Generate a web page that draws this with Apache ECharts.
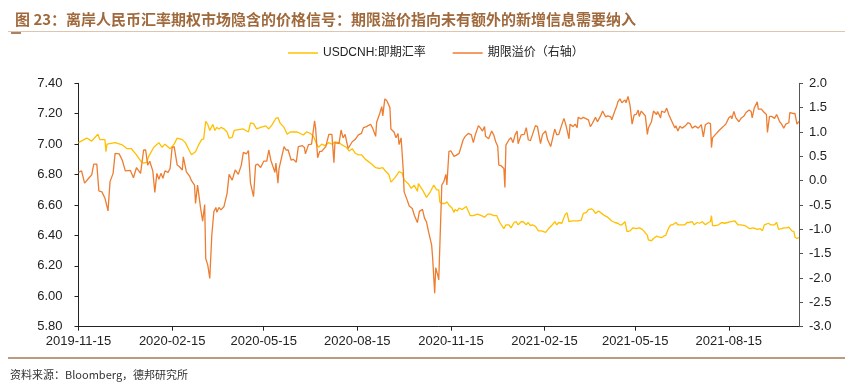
<!DOCTYPE html>
<html><head><meta charset="utf-8">
<script src="https://cdn.jsdelivr.net/npm/echarts@6/dist/echarts.min.js"></script>
<style>html,body{margin:0;padding:0;background:#fff}#c{width:853px;height:385px}</style>
</head><body><div id="c"></div>
<script>
const titleText = '图 23：离岸人民币汇率期权市场隐含的价格信号：期限溢价指向未有额外的新增信息需要纳入';
const sourceText = '资料来源：Bloomberg，德邦研究所';
const seriesNames = ['USDCNH:即期汇率', '期限溢价（右轴）'];
const startDate = '2019-11-15';
const endDate = '2021-10-23';
const xTickLabels = ['2019-11-15','2020-02-15','2020-05-15','2020-08-15','2020-11-15','2021-02-15','2021-05-15','2021-08-15'];
const leftTicks = {min: 5.8, max: 7.4, interval: 0.2};
const rightTicks = {min: -3, max: 2, interval: 0.5};

const spotUSDCNH = [
['2019-11-15',7.01],['2019-11-23',7.04],['2019-11-28',7.02],['2019-12-04',7.065],['2019-12-06',7.03],['2019-12-11',7.03],['2019-12-12',6.95],['2019-12-13',7.00],['2019-12-21',7.01],['2019-12-28',6.995],
['2020-01-02',6.97],['2020-01-06',6.97],['2020-01-11',6.93],['2020-01-15',6.89],['2020-01-18',6.875],['2020-01-21',6.88],['2020-01-23',6.92],['2020-01-28',6.98],
['2020-02-02',7.01],['2020-02-05',6.98],['2020-02-08',7.00],['2020-02-13',6.97],['2020-02-17',7.00],['2020-02-20',7.04],['2020-02-25',7.03],['2020-02-28',7.01],
['2020-03-02',6.97],['2020-03-05',6.93],['2020-03-09',6.95],['2020-03-12',6.995],['2020-03-15',7.03],['2020-03-17',7.035],['2020-03-19',7.15],['2020-03-21',7.13],['2020-03-23',7.09],['2020-03-26',7.13],['2020-03-28',7.09],['2020-03-30',7.11],
['2020-04-01',7.10],['2020-04-03',7.11],['2020-04-06',7.10],['2020-04-09',7.08],['2020-04-11',7.04],['2020-04-14',7.045],['2020-04-16',7.09],['2020-04-20',7.095],['2020-04-25',7.10],['2020-04-30',7.08],
['2020-05-02',7.14],['2020-05-05',7.135],['2020-05-08',7.10],['2020-05-12',7.11],['2020-05-17',7.12],['2020-05-20',7.10],['2020-05-23',7.125],['2020-05-27',7.17],['2020-05-29',7.175],['2020-05-31',7.14],
['2020-06-04',7.11],['2020-06-07',7.065],['2020-06-10',7.08],['2020-06-13',7.08],['2020-06-17',7.08],['2020-06-20',7.07],['2020-06-23',7.06],['2020-06-26',7.08],['2020-06-30',7.07],
['2020-07-03',7.05],['2020-07-06',7.00],['2020-07-08',6.98],['2020-07-11',7.00],['2020-07-14',6.99],['2020-07-18',7.01],['2020-07-21',7.00],['2020-07-24',7.015],['2020-07-28',7.01],['2020-07-31',6.995],
['2020-08-04',6.98],['2020-08-07',6.955],['2020-08-10',6.97],['2020-08-13',6.94],['2020-08-16',6.93],['2020-08-19',6.93],['2020-08-23',6.90],['2020-08-26',6.885],['2020-08-29',6.87],
['2020-09-02',6.845],['2020-09-06',6.84],['2020-09-09',6.845],['2020-09-12',6.82],['2020-09-15',6.80],['2020-09-17',6.75],['2020-09-21',6.78],['2020-09-25',6.82],['2020-09-28',6.81],['2020-09-30',6.765],
['2020-10-04',6.74],['2020-10-07',6.71],['2020-10-10',6.73],['2020-10-13',6.69],['2020-10-14',6.74],['2020-10-18',6.70],['2020-10-22',6.65],['2020-10-26',6.69],['2020-10-29',6.73],
['2020-11-01',6.70],['2020-11-03',6.70],['2020-11-04',6.62],['2020-11-06',6.61],['2020-11-09',6.61],['2020-11-11',6.62],['2020-11-13',6.60],['2020-11-16',6.58],['2020-11-18',6.55],['2020-11-19',6.57],['2020-11-21',6.56],['2020-11-23',6.58],['2020-11-26',6.57],['2020-11-27',6.57],['2020-11-30',6.59],
['2020-12-02',6.56],['2020-12-04',6.53],['2020-12-07',6.53],['2020-12-11',6.54],['2020-12-12',6.55],['2020-12-15',6.53],['2020-12-18',6.52],['2020-12-21',6.54],['2020-12-24',6.54],['2020-12-27',6.53],['2020-12-30',6.53],
['2021-01-02',6.485],['2021-01-06',6.445],['2021-01-08',6.47],['2021-01-11',6.47],['2021-01-13',6.45],['2021-01-16',6.485],['2021-01-18',6.49],['2021-01-20',6.47],['2021-01-23',6.49],['2021-01-25',6.49],['2021-01-28',6.47],['2021-01-30',6.485],
['2021-02-01',6.465],['2021-02-03',6.47],['2021-02-06',6.46],['2021-02-09',6.43],['2021-02-12',6.43],['2021-02-16',6.42],['2021-02-19',6.445],['2021-02-22',6.465],['2021-02-25',6.49],['2021-02-27',6.47],
['2021-03-01',6.485],['2021-03-04',6.48],['2021-03-07',6.535],['2021-03-09',6.55],['2021-03-11',6.49],['2021-03-14',6.495],['2021-03-17',6.495],['2021-03-20',6.495],['2021-03-23',6.50],['2021-03-25',6.545],['2021-03-28',6.55],['2021-03-30',6.57],
['2021-04-02',6.575],['2021-04-04',6.565],['2021-04-06',6.545],['2021-04-09',6.56],['2021-04-12',6.545],['2021-04-15',6.53],['2021-04-18',6.52],['2021-04-22',6.495],['2021-04-25',6.485],['2021-04-28',6.48],['2021-04-30',6.47],
['2021-05-02',6.47],['2021-05-05',6.49],['2021-05-07',6.425],['2021-05-10',6.43],['2021-05-13',6.45],['2021-05-16',6.445],['2021-05-19',6.45],['2021-05-22',6.44],['2021-05-24',6.425],['2021-05-27',6.40],['2021-05-28',6.37],['2021-05-31',6.365],
['2021-06-02',6.38],['2021-06-05',6.395],['2021-06-07',6.39],['2021-06-10',6.385],['2021-06-12',6.395],['2021-06-14',6.40],['2021-06-17',6.45],['2021-06-19',6.47],['2021-06-21',6.47],['2021-06-24',6.485],['2021-06-26',6.47],['2021-06-29',6.47],
['2021-07-03',6.47],['2021-07-05',6.485],['2021-07-07',6.485],['2021-07-10',6.49],['2021-07-12',6.47],['2021-07-15',6.485],['2021-07-17',6.48],['2021-07-20',6.49],['2021-07-21',6.495],['2021-07-23',6.47],['2021-07-26',6.485],['2021-07-28',6.49],['2021-07-29',6.53],['2021-07-30',6.465],
['2021-08-02',6.465],['2021-08-05',6.47],['2021-08-08',6.485],['2021-08-11',6.48],['2021-08-14',6.485],['2021-08-17',6.49],['2021-08-21',6.495],['2021-08-24',6.47],['2021-08-27',6.47],['2021-08-31',6.465],
['2021-09-03',6.45],['2021-09-05',6.445],['2021-09-08',6.45],['2021-09-12',6.44],['2021-09-15',6.445],['2021-09-17',6.43],['2021-09-19',6.47],['2021-09-23',6.48],['2021-09-25',6.47],['2021-09-27',6.47],['2021-09-29',6.47],
['2021-10-01',6.485],['2021-10-03',6.44],['2021-10-06',6.445],['2021-10-08',6.45],['2021-10-11',6.45],['2021-10-13',6.455],['2021-10-16',6.43],['2021-10-18',6.425],['2021-10-19',6.39],['2021-10-21',6.38],['2021-10-23',6.385]
];

const termPremium = [
['2019-11-15',0.17],['2019-11-18',0.20],['2019-11-21',-0.05],['2019-11-25',0.05],['2019-11-28',0.12],['2019-11-30',0.34],['2019-12-03',0.34],['2019-12-05',-0.21],['2019-12-08',-0.23],['2019-12-11',-0.36],['2019-12-14',-0.62],['2019-12-16',-0.02],['2019-12-19',0.15],['2019-12-21',0.56],['2019-12-25',0.55],['2019-12-28',0.42],['2019-12-31',0.20],
['2020-01-05',0.21],['2020-01-08',0.06],['2020-01-11',0.27],['2020-01-15',0.15],['2020-01-18',0.63],['2020-01-20',0.63],['2020-01-22',0.32],['2020-01-24',0.40],['2020-01-27',0.20],['2020-01-29',-0.24],['2020-01-31',0.15],
['2020-02-02',0.03],['2020-02-04',0.15],['2020-02-06',0.05],['2020-02-08',0.20],['2020-02-11',0.17],['2020-02-13',0.25],['2020-02-15',0.68],['2020-02-17',0.70],['2020-02-20',0.32],['2020-02-22',0.29],['2020-02-25',0.22],['2020-02-26',0.49],['2020-02-29',0.18],
['2020-03-03',0.10],['2020-03-05',0.00],['2020-03-08',-0.09],['2020-03-09',-0.47],['2020-03-11',-0.09],['2020-03-14',-0.57],['2020-03-16',-0.83],['2020-03-18',-0.49],['2020-03-19',-1.60],['2020-03-21',-1.73],['2020-03-23',-2.01],['2020-03-25',-1.12],['2020-03-27',-0.64],['2020-03-29',-0.55],['2020-03-30',-0.65],
['2020-04-01',-0.55],['2020-04-03',-0.60],['2020-04-06',-0.53],['2020-04-09',-0.26],['2020-04-11',0.13],['2020-04-14',0.01],['2020-04-17',0.22],['2020-04-20',0.13],['2020-04-23',0.32],['2020-04-25',0.58],['2020-04-28',0.55],['2020-04-30',0.62],
['2020-05-02',-0.05],['2020-05-05',-0.33],['2020-05-07',0.32],['2020-05-09',0.34],['2020-05-12',0.27],['2020-05-15',0.40],['2020-05-18',0.40],['2020-05-20',0.63],['2020-05-22',0.42],['2020-05-26',0.17],['2020-05-27',0.36],['2020-05-29',-0.05],['2020-05-30',0.24],
['2020-06-04',0.70],['2020-06-06',0.63],['2020-06-08',0.63],['2020-06-11',0.42],['2020-06-13',0.44],['2020-06-16',0.38],['2020-06-18',0.70],['2020-06-22',0.72],['2020-06-24',0.68],['2020-06-25',0.55],['2020-06-28',0.74],
['2020-07-01',0.75],['2020-07-04',1.23],['2020-07-05',1.08],['2020-07-07',0.47],['2020-07-09',0.60],['2020-07-11',0.60],['2020-07-15',0.70],['2020-07-18',0.95],['2020-07-21',0.95],['2020-07-23',0.37],['2020-07-24',0.78],['2020-07-28',0.76],['2020-07-30',1.04],
['2020-08-01',0.88],['2020-08-03',0.95],['2020-08-05',0.75],['2020-08-06',0.66],['2020-08-10',0.80],['2020-08-13',0.85],['2020-08-16',0.94],['2020-08-19',0.97],['2020-08-21',1.09],['2020-08-24',1.11],['2020-08-28',1.16],['2020-08-30',1.08],
['2020-09-02',0.91],['2020-09-03',1.20],['2020-09-06',1.38],['2020-09-08',1.52],['2020-09-09',1.33],['2020-09-11',1.68],['2020-09-13',1.64],['2020-09-16',1.50],['2020-09-17',1.06],['2020-09-20',1.00],['2020-09-22',0.88],['2020-09-24',0.97],['2020-09-25',0.74],['2020-09-27',0.88],['2020-09-29',0.25],['2020-09-30',-0.23],
['2020-10-03',-0.40],['2020-10-05',-0.52],['2020-10-08',-0.57],['2020-10-10',-0.71],['2020-10-13',-0.86],['2020-10-15',-0.63],['2020-10-18',-0.59],['2020-10-20',-0.77],['2020-10-22',-0.85],['2020-10-24',-1.05],['2020-10-27',-1.32],['2020-10-28',-1.59],['2020-10-30',-2.31],['2020-10-31',-1.79],
['2020-11-02',-1.94],['2020-11-03',-2.04],['2020-11-06',-0.09],['2020-11-08',-0.02],['2020-11-10',0.13],['2020-11-11',-0.09],['2020-11-13',0.60],['2020-11-15',0.61],['2020-11-18',0.50],['2020-11-20',0.52],['2020-11-23',0.56],['2020-11-24',0.63],['2020-11-27',0.84],['2020-11-29',0.91],
['2020-12-02',0.97],['2020-12-05',0.94],['2020-12-07',0.78],['2020-12-09',0.95],['2020-12-12',1.13],['2020-12-14',1.08],['2020-12-16',1.02],['2020-12-18',1.11],['2020-12-19',0.91],['2020-12-22',0.86],['2020-12-25',1.02],['2020-12-27',0.94],['2020-12-29',0.80],['2020-12-31',0.70],
['2021-01-01',0.32],['2021-01-03',0.31],['2021-01-06',0.25],['2021-01-07',-0.14],['2021-01-08',0.73],['2021-01-11',0.84],['2021-01-13',0.88],['2021-01-15',0.78],['2021-01-17',0.94],['2021-01-19',1.02],['2021-01-20',0.76],['2021-01-23',0.94],['2021-01-26',0.95],['2021-01-28',1.09],['2021-01-30',0.84],
['2021-02-01',0.82],['2021-02-03',0.94],['2021-02-06',1.13],['2021-02-08',1.11],['2021-02-11',0.76],['2021-02-13',0.95],['2021-02-16',1.02],['2021-02-18',0.84],['2021-02-21',0.70],['2021-02-23',0.88],['2021-02-25',1.06],['2021-02-27',0.94],
['2021-03-01',0.95],['2021-03-03',1.09],['2021-03-06',1.28],['2021-03-08',1.14],['2021-03-11',0.86],['2021-03-12',1.16],['2021-03-15',1.11],['2021-03-17',1.16],['2021-03-19',1.09],['2021-03-20',1.30],['2021-03-23',1.27],['2021-03-25',1.30],['2021-03-28',1.27],['2021-03-30',1.25],
['2021-04-01',1.11],['2021-04-03',1.18],['2021-04-06',1.30],['2021-04-08',1.21],['2021-04-11',1.33],['2021-04-13',1.43],['2021-04-16',1.31],['2021-04-18',1.33],['2021-04-21',1.31],['2021-04-22',1.25],['2021-04-25',1.43],['2021-04-27',1.54],['2021-04-28',1.62],['2021-04-30',1.68],
['2021-05-02',1.60],['2021-05-05',1.66],['2021-05-06',1.60],['2021-05-08',1.73],['2021-05-10',1.54],['2021-05-12',1.16],['2021-05-14',1.35],['2021-05-16',1.36],['2021-05-18',1.45],['2021-05-19',1.32],['2021-05-21',1.43],['2021-05-23',1.38],['2021-05-25',1.33],['2021-05-27',0.95],['2021-05-28',1.08],['2021-05-31',1.21],
['2021-06-02',1.43],['2021-06-05',1.36],['2021-06-06',1.42],['2021-06-09',1.29],['2021-06-10',1.43],['2021-06-13',1.40],['2021-06-15',1.49],['2021-06-17',1.36],['2021-06-20',1.22],['2021-06-21',1.19],['2021-06-23',1.08],['2021-06-24',1.13],['2021-06-26',1.02],['2021-06-28',1.12],['2021-06-30',1.08],
['2021-07-03',1.12],['2021-07-06',1.19],['2021-07-08',1.17],['2021-07-10',1.08],['2021-07-13',1.12],['2021-07-16',1.08],['2021-07-19',1.15],['2021-07-21',0.90],['2021-07-23',1.15],['2021-07-26',1.19],['2021-07-28',1.17],['2021-07-29',0.68],['2021-07-30',0.88],
['2021-08-02',0.95],['2021-08-05',1.02],['2021-08-08',1.08],['2021-08-10',1.12],['2021-08-12',1.16],['2021-08-15',1.29],['2021-08-17',1.33],['2021-08-18',1.27],['2021-08-20',1.42],['2021-08-22',1.29],['2021-08-25',1.21],['2021-08-27',1.28],['2021-08-30',1.33],
['2021-09-01',1.40],['2021-09-04',1.45],['2021-09-06',1.42],['2021-09-07',1.29],['2021-09-09',1.49],['2021-09-12',1.62],['2021-09-13',1.47],['2021-09-16',1.47],['2021-09-18',1.42],['2021-09-21',1.36],['2021-09-22',0.99],['2021-09-24',1.32],['2021-09-26',1.32],['2021-09-29',1.28],
['2021-10-01',1.36],['2021-10-04',1.21],['2021-10-06',1.16],['2021-10-08',1.08],['2021-10-10',1.16],['2021-10-13',1.19],['2021-10-14',1.40],['2021-10-17',1.38],['2021-10-19',1.38],['2021-10-21',1.16],['2021-10-23',1.22]
];

// build the calendar-day category list
const days = [];
(function(){
  const s = Date.parse(startDate + 'T00:00:00Z'), e = Date.parse(endDate + 'T00:00:00Z');
  for (let t = s; t <= e; t += 86400000) days.push(new Date(t).toISOString().slice(0, 10));
})();
const dayIndex = {};
days.forEach((d, i) => { dayIndex[d] = i; });
const toSeries = arr => arr.map(p => [dayIndex[p[0]], p[1]]);
const showTick = (i, v) => xTickLabels.indexOf(v) >= 0;

const FONT = '"Liberation Sans", "Noto Sans CJK SC", sans-serif';
const chart = echarts.init(document.getElementById('c'), null, {renderer: 'canvas'});
chart.setOption({
  animation: false,
  backgroundColor: '#fff',
  title: {
    text: titleText, left: 10, top: 7,
    textStyle: {color: '#A0693C', fontSize: 15, fontWeight: 'bold', fontFamily: '"Noto Sans CJK SC", sans-serif'}
  },
  graphic: [
    {type: 'line', shape: {x1: 8, y1: 31.5, x2: 845, y2: 31.5}, style: {stroke: '#DCC6B0', lineWidth: 1}},
    {type: 'line', shape: {x1: 11, y1: 33, x2: 21, y2: 33}, style: {stroke: '#8A5A35', lineWidth: 1.5}},
    {type: 'line', shape: {x1: 8, y1: 358, x2: 845, y2: 358}, style: {stroke: '#A47A55', lineWidth: 1.5}},
    {type: 'text', left: 10, top: 369, style: {text: sourceText, fill: '#333', fontSize: 11, fontFamily: '"Noto Sans CJK SC", sans-serif'}}
  ],
  legend: {
    left: 283, top: 42, itemWidth: 30, itemHeight: 1.5, itemGap: 27, icon: 'rect',
    textStyle: {color: '#222', fontSize: 12, fontFamily: FONT},
    data: seriesNames
  },
  grid: {left: 78.5, right: 54, top: 83.3, bottom: 58.3, containLabel: false},
  xAxis: {
    type: 'category', data: days, boundaryGap: false,
    axisLine: {onZero: false, lineStyle: {color: '#222', width: 1}},
    axisTick: {show: true, interval: showTick, length: 4, lineStyle: {color: '#222'}},
    axisLabel: {interval: showTick, color: '#222', fontSize: 13, margin: 8, fontFamily: FONT},
    splitLine: {show: false}
  },
  yAxis: [
    {
      type: 'value', position: 'left', min: leftTicks.min, max: leftTicks.max, interval: leftTicks.interval,
      axisLine: {show: true, lineStyle: {color: '#222'}},
      axisTick: {show: true, length: 4, lineStyle: {color: '#222'}},
      axisLabel: {color: '#222', fontSize: 13, margin: 16, fontFamily: FONT, formatter: v => v.toFixed(2)},
      splitLine: {show: false}
    },
    {
      type: 'value', position: 'right', min: rightTicks.min, max: rightTicks.max, interval: rightTicks.interval,
      axisLine: {show: true, lineStyle: {color: '#555'}},
      axisTick: {show: true, length: 4, lineStyle: {color: '#555'}},
      axisLabel: {color: '#222', fontSize: 13, margin: 10, fontFamily: FONT, formatter: v => v.toFixed(1)},
      splitLine: {show: false}
    }
  ],
  series: [
    {
      name: seriesNames[0], type: 'line', yAxisIndex: 0, data: toSeries(spotUSDCNH),
      showSymbol: false, symbol: 'none', lineStyle: {color: '#FFC000', width: 1.3}, itemStyle: {color: '#FFC000'}, z: 2
    },
    {
      name: seriesNames[1], type: 'line', yAxisIndex: 1, data: toSeries(termPremium),
      showSymbol: false, symbol: 'none', lineStyle: {color: '#ED7D31', width: 1.3}, itemStyle: {color: '#ED7D31'}, z: 3
    }
  ]
});
</script>
</body></html>
